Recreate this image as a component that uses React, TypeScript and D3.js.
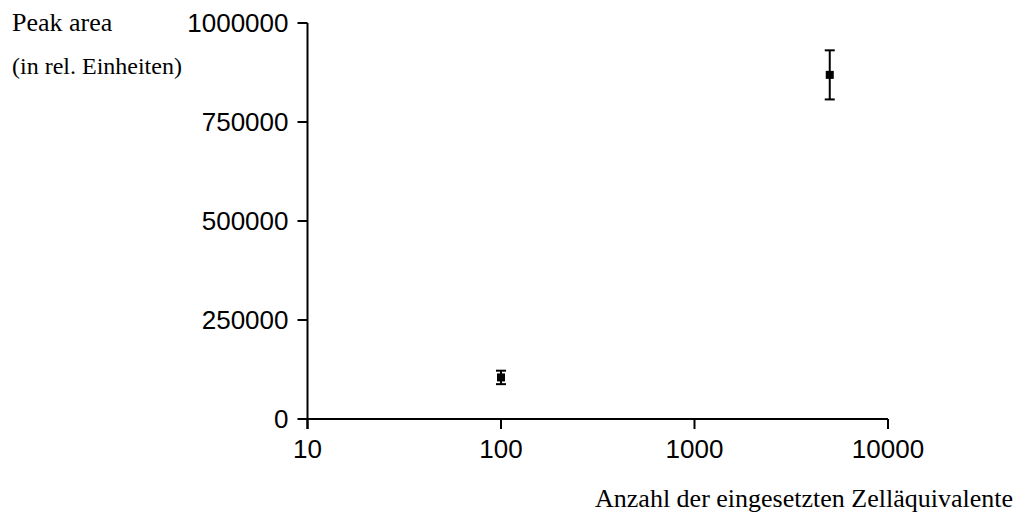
import React from "react";
import * as d3 from "d3";

const cellEquivalents = [100, 5000];
const peakAreaMean = [105000, 869000];
const peakAreaError = [17000, 62000];
const xTicks = [10, 100, 1000, 10000];
const yTicks = [0, 250000, 500000, 750000, 1000000];

const W = 1021;
const H = 519;

export default function App() {
  const x = d3.scaleLog().domain([10, 10000]).range([307.5, 888]);
  const y = d3.scaleLinear().domain([0, 1000000]).range([419, 23]);
  const sans = "'Liberation Sans', Arial, sans-serif";
  const serif = "'Liberation Serif', 'Times New Roman', serif";
  const tick = 10;
  return (
    <div style={{ position: "absolute", left: 0, top: 0 }}>
      <svg width={W} height={H} style={{ display: "block", background: "#fff" }}>
        {/* y axis */}
        <line x1={x(10)} x2={x(10)} y1={y(1000000)} y2={y(0) + tick} stroke="#000" strokeWidth={2} />
        {yTicks.map((t) => (
          <g key={"y" + t}>
            <line x1={x(10) - tick} x2={x(10)} y1={y(t)} y2={y(t)} stroke="#000" strokeWidth={2} />
            <text x={x(10) - 19} y={y(t)} dy="0.36em" textAnchor="end" fontFamily={sans} fontSize={26} fill="#000">
              {String(t)}
            </text>
          </g>
        ))}
        {/* x axis */}
        <line x1={x(10)} x2={x(10000)} y1={y(0)} y2={y(0)} stroke="#000" strokeWidth={2} />
        {xTicks.map((t) => (
          <g key={"x" + t}>
            <line x1={x(t)} x2={x(t)} y1={y(0)} y2={y(0) + tick} stroke="#000" strokeWidth={2} />
            <text x={x(t)} y={458} textAnchor="middle" fontFamily={sans} fontSize={26} fill="#000">
              {String(t)}
            </text>
          </g>
        ))}
        {/* data */}
        {cellEquivalents.map((c, i) => {
          const cx = x(c);
          const cy = y(peakAreaMean[i]);
          const top = y(peakAreaMean[i] + peakAreaError[i]);
          const bot = y(peakAreaMean[i] - peakAreaError[i]);
          return (
            <g key={"p" + i}>
              <line x1={cx} x2={cx} y1={top} y2={bot} stroke="#000" strokeWidth={2} />
              <line x1={cx - 5} x2={cx + 5} y1={top} y2={top} stroke="#000" strokeWidth={2} />
              <line x1={cx - 5} x2={cx + 5} y1={bot} y2={bot} stroke="#000" strokeWidth={2} />
              <rect x={cx - 4} y={cy - 4} width={8} height={8} fill="#000" />
            </g>
          );
        })}
        {/* titles */}
        <text x={12} y={31} fontFamily={serif} fontSize={26} fill="#000">Peak area</text>
        <text x={12} y={74} fontFamily={serif} fontSize={24} fill="#000">(in rel. Einheiten)</text>
        <text x={1013} y={507} textAnchor="end" fontFamily={serif} fontSize={26} fill="#000">
          Anzahl der eingesetzten Zelläquivalente
        </text>
      </svg>
    </div>
  );
}
